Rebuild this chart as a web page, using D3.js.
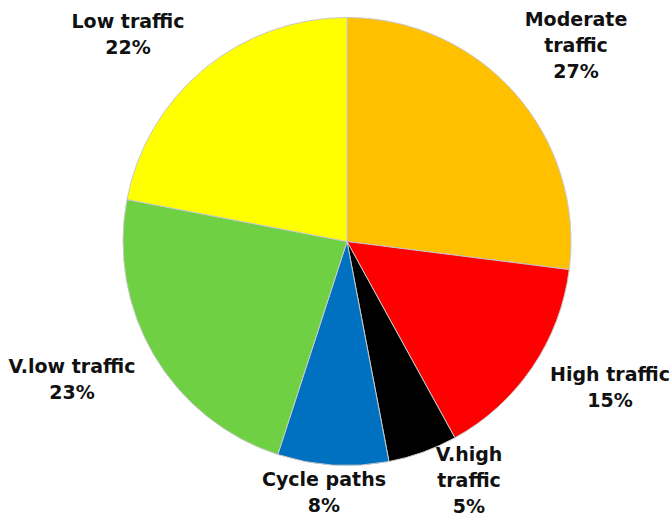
<!DOCTYPE html>
<html>
<head>
<meta charset="utf-8">
<script src="https://cdn.jsdelivr.net/npm/d3@7"></script>
<style>
  body { margin: 0; background: #fff; }
  svg text { font-family: "DejaVu Sans", sans-serif; font-weight: bold; fill: #111; }
</style>
</head>
<body>
<svg width="672" height="519"></svg>
<script>
var categories = ["Moderate traffic", "High traffic", "V.high traffic", "Cycle paths", "V.low traffic", "Low traffic"];
var values = [27, 15, 5, 8, 23, 22];
var colors = ["#ffc000", "#ff0000", "#000000", "#0070c0", "#6fd044", "#ffff00"];
// label lines (how each label wraps) and where its first line sits
var labelLines = [["Moderate", "traffic"], ["High traffic"], ["V.high", "traffic"], ["Cycle paths"], ["V.low traffic"], ["Low traffic"]];
var labelPos = [[576, 26], [610, 381], [469, 461], [324, 486], [72, 373], [128, 28]];

var svg = d3.select("svg"),
  cx = 347, cy = 241.5, r = 224;

var pie = d3.pie().sort(null).value(function(d) { return d; });
var arc = d3.arc().innerRadius(0).outerRadius(r);

var g = svg.append("g").attr("transform", "translate(" + cx + "," + cy + ")");

g.selectAll("path")
  .data(pie(values))
  .enter().append("path")
  .attr("d", arc)
  .attr("fill", function(d, i) { return colors[i]; })
  .attr("stroke", "#c8c8c8")
  .attr("stroke-width", 1);

var lineH = 26;
var labels = svg.append("g").selectAll("text")
  .data(categories)
  .enter().append("text")
  .attr("text-anchor", "middle")
  .attr("font-size", 19)
  .attr("x", function(d, i) { return labelPos[i][0]; })
  .attr("y", function(d, i) { return labelPos[i][1]; });

labels.each(function(d, i) {
  var t = d3.select(this);
  var lines = labelLines[i].concat([values[i] + "%"]);
  lines.forEach(function(s, j) {
    t.append("tspan")
      .attr("x", labelPos[i][0])
      .attr("dy", j === 0 ? 0 : lineH)
      .text(s);
  });
});
</script>
</body>
</html>
